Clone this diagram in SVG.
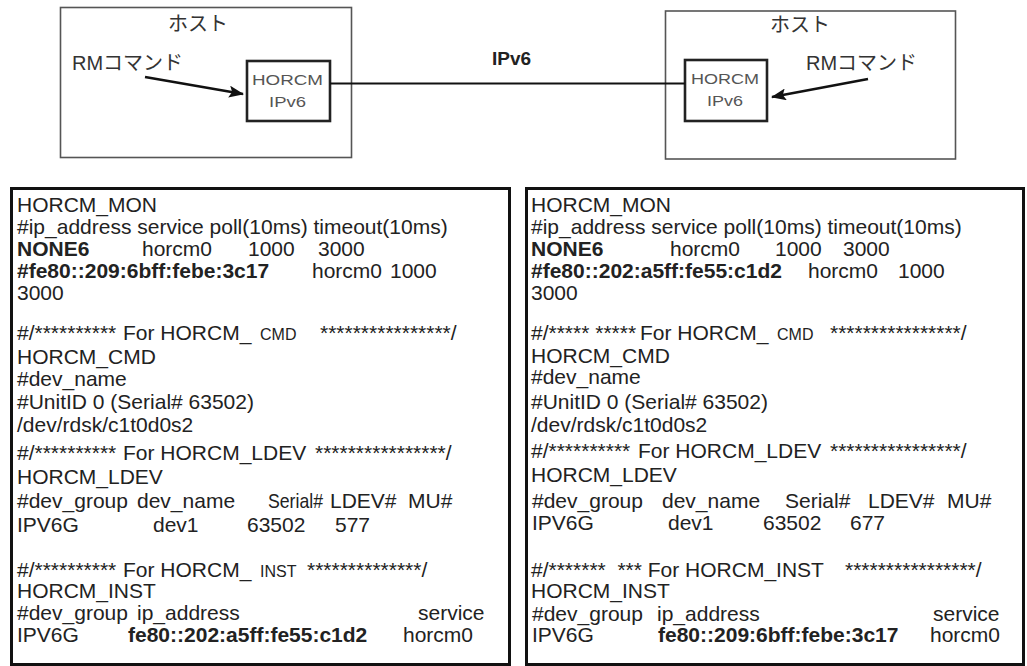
<svg xmlns="http://www.w3.org/2000/svg" width="1027" height="666" viewBox="0 0 1027 666">
<style>
text{font-family:"Liberation Sans",Arial,"Noto Sans CJK JP",sans-serif;fill:#222}
.jp{font-family:"Liberation Sans","Noto Sans CJK JP",sans-serif;font-size:20px;fill:#333}
.host{fill:#fff;stroke:#555;stroke-width:1.6}
.horcm{fill:#fff;stroke:#222;stroke-width:2.6}
.hl{font-size:15px;fill:#555}
.cfgbox{fill:#fff;stroke:#111;stroke-width:3}
.cfg{font-size:21px}
.b{font-weight:bold}
.sm{font-size:16px}
.link{stroke:#111;stroke-width:2;fill:none}
.arr{stroke:#111;stroke-width:2.6;fill:none}
</style>
<defs>
<marker id="ah" markerUnits="userSpaceOnUse" markerWidth="16" markerHeight="12" refX="14" refY="6" orient="auto">
<path d="M0,0 L15,6 L0,12 L3,6 Z" fill="#111"/>
</marker>
</defs>

<g id="host-left">
<rect class="host" x="60.5" y="7.5" width="291" height="150"/>
<text class="jp" x="198" y="31" text-anchor="middle">ホスト</text>
<text class="jp" x="72" y="70">RMコマンド</text>
</g>
<g id="horcm-left">
<rect class="horcm" x="247" y="61" width="83" height="60"/>
<text class="hl" x="252" y="85" textLength="71" lengthAdjust="spacingAndGlyphs">HORCM</text>
<text class="hl" x="269" y="107" textLength="37" lengthAdjust="spacingAndGlyphs">IPv6</text>
</g>

<g id="host-right">
<rect class="host" x="665.5" y="11" width="290" height="148"/>
<text class="jp" x="800" y="32" text-anchor="middle">ホスト</text>
<text class="jp" x="806" y="70">RMコマンド</text>
</g>
<g id="horcm-right">
<rect class="horcm" x="685" y="60" width="82" height="61"/>
<text class="hl" x="691" y="84" textLength="68" lengthAdjust="spacingAndGlyphs">HORCM</text>
<text class="hl" x="707" y="106" textLength="36" lengthAdjust="spacingAndGlyphs">IPv6</text>
</g>

<g id="connectors">
<line class="link" x1="330" y1="83.5" x2="685" y2="83.5"/>
<text class="b" x="492" y="65" font-size="19">IPv6</text>
<line class="arr" x1="145" y1="77" x2="243" y2="94" marker-end="url(#ah)"/>
<line class="arr" x1="868" y1="79" x2="772" y2="97" marker-end="url(#ah)"/>
</g>

<g id="config-left">
<rect class="cfgbox" x="11.5" y="188.5" width="498" height="476"/>
<g class="cfg">
<text x="17" y="212">HORCM_MON</text>
<text x="17" y="234">#ip_address service poll(10ms) timeout(10ms)</text>
<text y="256"><tspan x="17" class="b">NONE6</tspan><tspan x="142">horcm0</tspan><tspan x="248">1000</tspan><tspan x="318">3000</tspan></text>
<text y="278"><tspan x="17" class="b">#fe80::209:6bff:febe:3c17</tspan><tspan x="312">horcm0</tspan><tspan x="390">1000</tspan></text>
<text x="17" y="300">3000</text>
<text y="340"><tspan x="17">#/**********</tspan><tspan x="123">For HORCM_</tspan><tspan x="260" class="sm">CMD</tspan><tspan x="320">****************/</tspan></text>
<text x="17" y="364">HORCM_CMD</text>
<text x="17" y="386">#dev_name</text>
<text x="17" y="409">#UnitID 0 (Serial# 63502)</text>
<text x="17" y="432">/dev/rdsk/c1t0d0s2</text>
<text y="460"><tspan x="17">#/**********</tspan><tspan x="123">For HORCM_LDEV</tspan><tspan x="315">****************/</tspan></text>
<text x="17" y="484">HORCM_LDEV</text>
<text y="508"><tspan x="17">#dev_group</tspan><tspan x="137">dev_name</tspan></text>
<text x="268" y="508" textLength="55" lengthAdjust="spacingAndGlyphs">Serial#</text>
<text y="508"><tspan x="330">LDEV#</tspan><tspan x="408">MU#</tspan></text>
<text y="532"><tspan x="17">IPV6G</tspan><tspan x="153">dev1</tspan><tspan x="247">63502</tspan><tspan x="335">577</tspan></text>
<text y="577"><tspan x="17">#/**********</tspan><tspan x="123">For HORCM_</tspan><tspan x="260" class="sm">INST</tspan><tspan x="307">**************/</tspan></text>
<text x="17" y="598">HORCM_INST</text>
<text y="620"><tspan x="17">#dev_group</tspan><tspan x="137">ip_address</tspan><tspan x="418">service</tspan></text>
<text y="642"><tspan x="17">IPV6G</tspan><tspan x="128" class="b">fe80::202:a5ff:fe55:c1d2</tspan><tspan x="403">horcm0</tspan></text>
</g>
</g>

<g id="config-right">
<rect class="cfgbox" x="526.5" y="188.5" width="497" height="476"/>
<g class="cfg">
<text x="531" y="212">HORCM_MON</text>
<text x="531" y="234">#ip_address service poll(10ms) timeout(10ms)</text>
<text y="256"><tspan x="531" class="b">NONE6</tspan><tspan x="670">horcm0</tspan><tspan x="775">1000</tspan><tspan x="843">3000</tspan></text>
<text y="278"><tspan x="531" class="b">#fe80::202:a5ff:fe55:c1d2</tspan><tspan x="808">horcm0</tspan><tspan x="898">1000</tspan></text>
<text x="531" y="300">3000</text>
<text y="340"><tspan x="531">#/***** *****</tspan><tspan x="640">For HORCM_</tspan><tspan x="777" class="sm">CMD</tspan><tspan x="830">****************/</tspan></text>
<text x="531" y="363">HORCM_CMD</text>
<text x="531" y="384">#dev_name</text>
<text x="531" y="409">#UnitID 0 (Serial# 63502)</text>
<text x="531" y="432">/dev/rdsk/c1t0d0s2</text>
<text y="458"><tspan x="531">#/**********</tspan><tspan x="638">For HORCM_LDEV</tspan><tspan x="830">****************/</tspan></text>
<text x="531" y="482">HORCM_LDEV</text>
<text y="508"><tspan x="532">#dev_group</tspan><tspan x="662">dev_name</tspan><tspan x="785">Serial#</tspan><tspan x="868">LDEV#</tspan><tspan x="947">MU#</tspan></text>
<text y="530"><tspan x="532">IPV6G</tspan><tspan x="668">dev1</tspan><tspan x="763">63502</tspan><tspan x="850">677</tspan></text>
<text y="577"><tspan x="531">#/*******&#160;&#160;*** For HORCM_INST</tspan><tspan x="845">****************/</tspan></text>
<text x="531" y="598">HORCM_INST</text>
<text y="621"><tspan x="532">#dev_group</tspan><tspan x="657">ip_address</tspan><tspan x="933">service</tspan></text>
<text y="642"><tspan x="532">IPV6G</tspan><tspan x="658" class="b">fe80::209:6bff:febe:3c17</tspan><tspan x="930">horcm0</tspan></text>
</g>
</g>
</svg>
